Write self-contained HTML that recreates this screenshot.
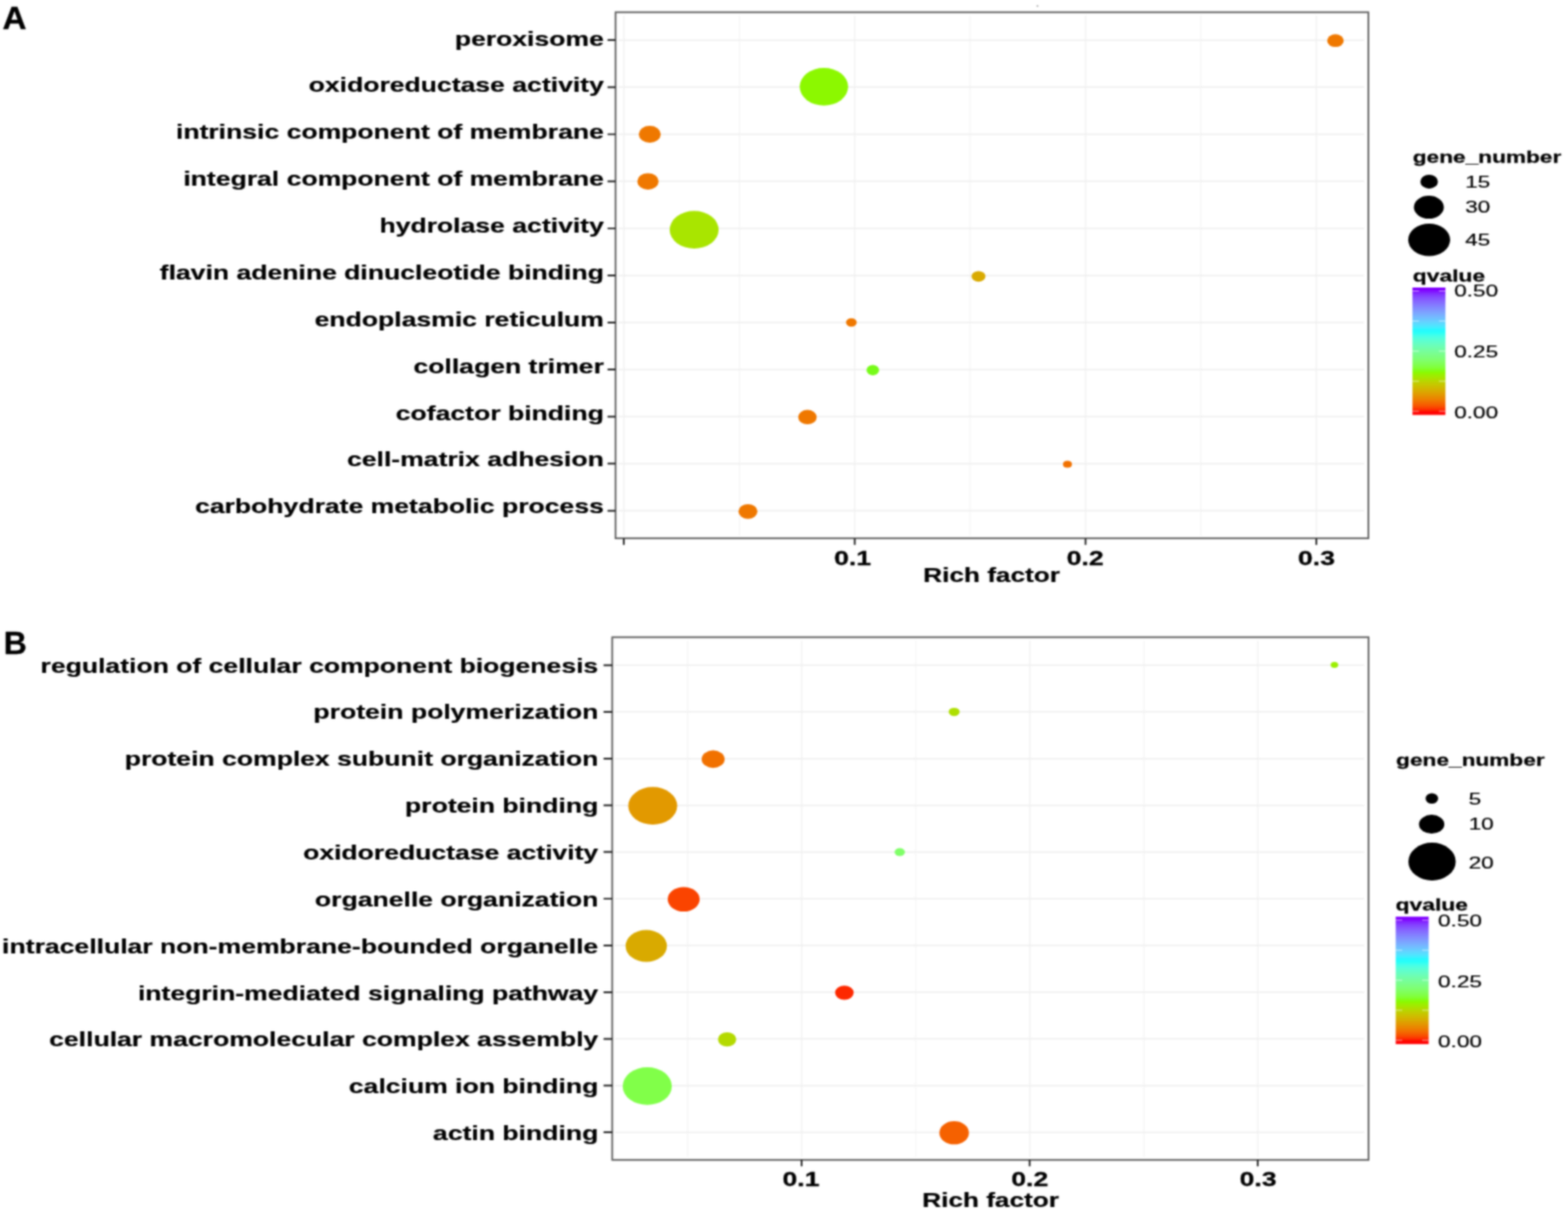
<!DOCTYPE html>
<html lang="en">
<head>
<meta charset="utf-8">
<title>GO enrichment bubble plots</title>
<style>
html,body{margin:0;padding:0;background:#fff;}
body{width:1571px;height:1214px;overflow:hidden;}
svg{display:block;font-family:'Liberation Sans', Arial, Helvetica, sans-serif;}
svg text{font-family:'Liberation Sans', Arial, Helvetica, sans-serif;}
</style>
</head>
<body>
<svg width="1571" height="1214" viewBox="0 0 1571 1214">
<defs><linearGradient id="rb" x1="0" y1="0" x2="0" y2="1"><stop offset="0.0000" stop-color="#8000ff"/><stop offset="0.0208" stop-color="#8000ff"/><stop offset="0.0417" stop-color="#8225ff"/><stop offset="0.0625" stop-color="#833fff"/><stop offset="0.0833" stop-color="#8552ff"/><stop offset="0.1042" stop-color="#8563ff"/><stop offset="0.1250" stop-color="#8572ff"/><stop offset="0.1458" stop-color="#8381ff"/><stop offset="0.1667" stop-color="#818fff"/><stop offset="0.1875" stop-color="#7e9dff"/><stop offset="0.2083" stop-color="#7aaaff"/><stop offset="0.2292" stop-color="#75b8ff"/><stop offset="0.2500" stop-color="#6dc5ff"/><stop offset="0.2708" stop-color="#64d2ff"/><stop offset="0.2917" stop-color="#57dfff"/><stop offset="0.3125" stop-color="#45ecff"/><stop offset="0.3333" stop-color="#25f9ff"/><stop offset="0.3542" stop-color="#27fff8"/><stop offset="0.3750" stop-color="#41ffeb"/><stop offset="0.3958" stop-color="#51ffde"/><stop offset="0.4167" stop-color="#5cffd1"/><stop offset="0.4375" stop-color="#65fec4"/><stop offset="0.4583" stop-color="#6cfeb7"/><stop offset="0.4792" stop-color="#72fea9"/><stop offset="0.5000" stop-color="#76fe9c"/><stop offset="0.5208" stop-color="#7afe8e"/><stop offset="0.5417" stop-color="#7cfe80"/><stop offset="0.5625" stop-color="#7eff72"/><stop offset="0.5833" stop-color="#80ff62"/><stop offset="0.6042" stop-color="#80ff51"/><stop offset="0.6250" stop-color="#81ff3d"/><stop offset="0.6458" stop-color="#80ff21"/><stop offset="0.6667" stop-color="#89fa00"/><stop offset="0.6875" stop-color="#9bef00"/><stop offset="0.7083" stop-color="#a9e400"/><stop offset="0.7292" stop-color="#b5d900"/><stop offset="0.7500" stop-color="#c0cd00"/><stop offset="0.7708" stop-color="#cac200"/><stop offset="0.7917" stop-color="#d2b600"/><stop offset="0.8125" stop-color="#d9aa00"/><stop offset="0.8333" stop-color="#e09d00"/><stop offset="0.8542" stop-color="#e68f00"/><stop offset="0.8750" stop-color="#ec8100"/><stop offset="0.8958" stop-color="#f17100"/><stop offset="0.9167" stop-color="#f56000"/><stop offset="0.9375" stop-color="#f94b00"/><stop offset="0.9583" stop-color="#fd2d00"/><stop offset="0.9792" stop-color="#ff0000"/><stop offset="1.0000" stop-color="#ff0000"/></linearGradient><filter id="soft" x="0" y="0" width="1571" height="1214" filterUnits="userSpaceOnUse" color-interpolation-filters="sRGB"><feConvolveMatrix order="5" kernelMatrix="1 8 16 8 1 8 64 128 64 8 16 128 256 128 16 8 64 128 64 8 1 8 16 8 1" divisor="1156" edgeMode="duplicate" preserveAlpha="true"/></filter></defs>
<g filter="url(#soft)">
<rect width="1571" height="1214" fill="#fff"/>
<path d="M740.80 15.80V536.20M972.00 15.80V536.20M1203.20 15.80V536.20" stroke="#f7f7f7" stroke-width="1.5" fill="none"/>
<path d="M625.20 15.80V536.20M856.40 15.80V536.20M1087.60 15.80V536.20M1318.80 15.80V536.20" stroke="#f3f3f3" stroke-width="1.5" fill="none"/>
<path d="M619.70 40.20H1366.50M619.70 87.34H1366.50M619.70 134.48H1366.50M619.70 181.62H1366.50M619.70 228.76H1366.50M619.70 275.90H1366.50M619.70 323.04H1366.50M619.70 370.18H1366.50M619.70 417.32H1366.50M619.70 464.46H1366.50M619.70 511.60H1366.50" stroke="#f0f0f0" stroke-width="1.5" fill="none"/>
<ellipse cx="1338.00" cy="40.70" rx="8.30" ry="6.40" fill="#ef7800"/>
<ellipse cx="825.50" cy="86.84" rx="24.30" ry="18.80" fill="#8cf800"/>
<ellipse cx="651.00" cy="134.48" rx="11.00" ry="8.50" fill="#ef7800"/>
<ellipse cx="649.20" cy="181.72" rx="10.70" ry="8.30" fill="#ef7800"/>
<ellipse cx="695.50" cy="230.16" rx="24.50" ry="18.80" fill="#a9e500"/>
<ellipse cx="980.40" cy="276.80" rx="7.00" ry="5.40" fill="#d9aa00"/>
<ellipse cx="853.00" cy="323.04" rx="5.40" ry="4.20" fill="#ef7800"/>
<ellipse cx="874.50" cy="370.68" rx="6.30" ry="5.20" fill="#76fb18"/>
<ellipse cx="809.00" cy="417.82" rx="9.30" ry="7.20" fill="#ef7800"/>
<ellipse cx="1069.50" cy="464.96" rx="4.50" ry="3.50" fill="#f17100"/>
<ellipse cx="749.40" cy="512.30" rx="9.50" ry="7.40" fill="#ef7800"/>
<rect x="616.70" y="12.30" width="754.30" height="526.90" fill="none" stroke="#5e5e5e" stroke-width="1.7"/>
<path d="M608.70 40.20H616.70M608.70 87.34H616.70M608.70 134.48H616.70M608.70 181.62H616.70M608.70 228.76H616.70M608.70 275.90H616.70M608.70 323.04H616.70M608.70 370.18H616.70M608.70 417.32H616.70M608.70 464.46H616.70M608.70 511.60H616.70M625.00 539.20V545.70M856.40 539.20V545.70M1087.60 539.20V545.70M1318.80 539.20V545.70" stroke="#1c1c1c" stroke-width="1.7" fill="none"/>
<text transform="translate(605.00 45.55) scale(1.298 1)" font-size="20.5" text-anchor="end" font-weight="bold" stroke="#000" stroke-width="0.2" fill="#000">peroxisome</text>
<text transform="translate(605.00 92.42) scale(1.298 1)" font-size="20.5" text-anchor="end" font-weight="bold" stroke="#000" stroke-width="0.2" fill="#000">oxidoreductase activity</text>
<text transform="translate(605.00 139.30) scale(1.298 1)" font-size="20.5" text-anchor="end" font-weight="bold" stroke="#000" stroke-width="0.2" fill="#000">intrinsic component of membrane</text>
<text transform="translate(605.00 186.18) scale(1.298 1)" font-size="20.5" text-anchor="end" font-weight="bold" stroke="#000" stroke-width="0.2" fill="#000">integral component of membrane</text>
<text transform="translate(605.00 233.05) scale(1.298 1)" font-size="20.5" text-anchor="end" font-weight="bold" stroke="#000" stroke-width="0.2" fill="#000">hydrolase activity</text>
<text transform="translate(605.00 279.93) scale(1.298 1)" font-size="20.5" text-anchor="end" font-weight="bold" stroke="#000" stroke-width="0.2" fill="#000">flavin adenine dinucleotide binding</text>
<text transform="translate(605.00 326.80) scale(1.298 1)" font-size="20.5" text-anchor="end" font-weight="bold" stroke="#000" stroke-width="0.2" fill="#000">endoplasmic reticulum</text>
<text transform="translate(605.00 373.68) scale(1.298 1)" font-size="20.5" text-anchor="end" font-weight="bold" stroke="#000" stroke-width="0.2" fill="#000">collagen trimer</text>
<text transform="translate(605.00 420.55) scale(1.298 1)" font-size="20.5" text-anchor="end" font-weight="bold" stroke="#000" stroke-width="0.2" fill="#000">cofactor binding</text>
<text transform="translate(605.00 467.43) scale(1.298 1)" font-size="20.5" text-anchor="end" font-weight="bold" stroke="#000" stroke-width="0.2" fill="#000">cell-matrix adhesion</text>
<text transform="translate(605.00 514.30) scale(1.298 1)" font-size="20.5" text-anchor="end" font-weight="bold" stroke="#000" stroke-width="0.2" fill="#000">carbohydrate metabolic process</text>
<text transform="translate(854.20 565.50) scale(1.29 1)" font-size="20.6" text-anchor="middle" font-weight="bold" stroke="#000" stroke-width="0.3" fill="#000">0.1</text>
<text transform="translate(1087.30 565.50) scale(1.29 1)" font-size="20.6" text-anchor="middle" font-weight="bold" stroke="#000" stroke-width="0.3" fill="#000">0.2</text>
<text transform="translate(1319.00 565.50) scale(1.29 1)" font-size="20.6" text-anchor="middle" font-weight="bold" stroke="#000" stroke-width="0.3" fill="#000">0.3</text>
<text transform="translate(993.50 583.20) scale(1.28 1)" font-size="20.5" text-anchor="middle" font-weight="bold" stroke="#000" stroke-width="0.2" fill="#000">Rich factor</text>
<text transform="translate(1415.50 163.40) scale(1.305 1)" font-size="17.4" text-anchor="start" font-weight="bold" stroke="#000" stroke-width="0.25" fill="#000">gene_number</text>
<ellipse cx="1431.9" cy="181.9" rx="8.8" ry="7.0" fill="#000"/>
<text transform="translate(1468.00 187.50) scale(1.3 1)" font-size="17.4" text-anchor="start" stroke="#000" stroke-width="0.2" fill="#000">15</text>
<ellipse cx="1431.6" cy="207.6" rx="15.0" ry="11.5" fill="#000"/>
<text transform="translate(1468.00 213.40) scale(1.3 1)" font-size="17.4" text-anchor="start" stroke="#000" stroke-width="0.2" fill="#000">30</text>
<ellipse cx="1431.9" cy="240.3" rx="21.0" ry="16.2" fill="#000"/>
<text transform="translate(1468.00 245.60) scale(1.3 1)" font-size="17.4" text-anchor="start" stroke="#000" stroke-width="0.2" fill="#000">45</text>
<text transform="translate(1415.50 282.00) scale(1.315 1)" font-size="17.4" text-anchor="start" font-weight="bold" stroke="#000" stroke-width="0.25" fill="#000">qvalue</text>
<rect x="1415.2" y="288.0" width="33.0" height="127.6" fill="url(#rb)"/>
<path d="M1415.20 291.50h6.5M1441.70 291.50h6.5M1415.20 321.62h6.5M1441.70 321.62h6.5M1415.20 351.75h6.5M1441.70 351.75h6.5M1415.20 381.88h6.5M1441.70 381.88h6.5M1415.20 412.00h6.5M1441.70 412.00h6.5" stroke="#fff" stroke-opacity="0.55" stroke-width="1" fill="none"/>
<text transform="translate(1457.00 297.20) scale(1.3 1)" font-size="17.4" text-anchor="start" stroke="#000" stroke-width="0.2" fill="#000">0.50</text>
<text transform="translate(1457.00 358.20) scale(1.3 1)" font-size="17.4" text-anchor="start" stroke="#000" stroke-width="0.2" fill="#000">0.25</text>
<text transform="translate(1457.00 419.20) scale(1.3 1)" font-size="17.4" text-anchor="start" stroke="#000" stroke-width="0.2" fill="#000">0.00</text>
<path d="M689.05 641.80V1158.80M917.55 641.80V1158.80M1146.05 641.80V1158.80" stroke="#f7f7f7" stroke-width="1.5" fill="none"/>
<path d="M803.30 641.80V1158.80M1031.80 641.80V1158.80M1260.30 641.80V1158.80" stroke="#f3f3f3" stroke-width="1.5" fill="none"/>
<path d="M616.40 666.30H1366.70M616.40 713.09H1366.70M616.40 759.88H1366.70M616.40 806.67H1366.70M616.40 853.46H1366.70M616.40 900.25H1366.70M616.40 947.04H1366.70M616.40 993.83H1366.70M616.40 1040.62H1366.70M616.40 1087.41H1366.70M616.40 1134.20H1366.70" stroke="#f0f0f0" stroke-width="1.5" fill="none"/>
<ellipse cx="1337.00" cy="666.10" rx="3.80" ry="3.00" fill="#9bef00"/>
<ellipse cx="956.00" cy="713.09" rx="5.50" ry="4.20" fill="#aedf00"/>
<ellipse cx="714.50" cy="760.38" rx="11.50" ry="8.80" fill="#f17100"/>
<ellipse cx="654.00" cy="807.17" rx="24.50" ry="18.80" fill="#e29900"/>
<ellipse cx="901.50" cy="853.46" rx="5.20" ry="4.00" fill="#7fff68"/>
<ellipse cx="685.00" cy="900.75" rx="16.00" ry="12.30" fill="#fa4400"/>
<ellipse cx="647.50" cy="947.54" rx="20.70" ry="16.00" fill="#d9aa00"/>
<ellipse cx="846.00" cy="994.33" rx="9.30" ry="7.20" fill="#fd2900"/>
<ellipse cx="728.50" cy="1041.12" rx="9.20" ry="7.10" fill="#b4da00"/>
<ellipse cx="648.50" cy="1087.91" rx="24.60" ry="18.90" fill="#81ff49"/>
<ellipse cx="956.00" cy="1134.70" rx="14.80" ry="11.60" fill="#f56100"/>
<rect x="613.40" y="638.30" width="757.80" height="523.50" fill="none" stroke="#5e5e5e" stroke-width="1.7"/>
<path d="M604.70 666.30H613.40M604.70 713.09H613.40M604.70 759.88H613.40M604.70 806.67H613.40M604.70 853.46H613.40M604.70 900.25H613.40M604.70 947.04H613.40M604.70 993.83H613.40M604.70 1040.62H613.40M604.70 1087.41H613.40M604.70 1134.20H613.40M803.20 1161.80V1168.30M1031.60 1161.80V1168.30M1260.20 1161.80V1168.30" stroke="#1c1c1c" stroke-width="1.7" fill="none"/>
<text transform="translate(599.40 673.60) scale(1.298 1)" font-size="20.5" text-anchor="end" font-weight="bold" stroke="#000" stroke-width="0.2" fill="#000">regulation of cellular component biogenesis</text>
<text transform="translate(599.40 720.45) scale(1.298 1)" font-size="20.5" text-anchor="end" font-weight="bold" stroke="#000" stroke-width="0.2" fill="#000">protein polymerization</text>
<text transform="translate(599.40 767.30) scale(1.298 1)" font-size="20.5" text-anchor="end" font-weight="bold" stroke="#000" stroke-width="0.2" fill="#000">protein complex subunit organization</text>
<text transform="translate(599.40 814.15) scale(1.298 1)" font-size="20.5" text-anchor="end" font-weight="bold" stroke="#000" stroke-width="0.2" fill="#000">protein binding</text>
<text transform="translate(599.40 861.00) scale(1.298 1)" font-size="20.5" text-anchor="end" font-weight="bold" stroke="#000" stroke-width="0.2" fill="#000">oxidoreductase activity</text>
<text transform="translate(599.40 907.85) scale(1.298 1)" font-size="20.5" text-anchor="end" font-weight="bold" stroke="#000" stroke-width="0.2" fill="#000">organelle organization</text>
<text transform="translate(599.40 954.70) scale(1.298 1)" font-size="20.5" text-anchor="end" font-weight="bold" stroke="#000" stroke-width="0.2" fill="#000">intracellular non-membrane-bounded organelle</text>
<text transform="translate(599.40 1001.55) scale(1.298 1)" font-size="20.5" text-anchor="end" font-weight="bold" stroke="#000" stroke-width="0.2" fill="#000">integrin-mediated signaling pathway</text>
<text transform="translate(599.40 1048.40) scale(1.298 1)" font-size="20.5" text-anchor="end" font-weight="bold" stroke="#000" stroke-width="0.2" fill="#000">cellular macromolecular complex assembly</text>
<text transform="translate(599.40 1095.25) scale(1.298 1)" font-size="20.5" text-anchor="end" font-weight="bold" stroke="#000" stroke-width="0.2" fill="#000">calcium ion binding</text>
<text transform="translate(599.40 1142.10) scale(1.298 1)" font-size="20.5" text-anchor="end" font-weight="bold" stroke="#000" stroke-width="0.2" fill="#000">actin binding</text>
<text transform="translate(802.50 1188.30) scale(1.29 1)" font-size="20.6" text-anchor="middle" font-weight="bold" stroke="#000" stroke-width="0.3" fill="#000">0.1</text>
<text transform="translate(1031.70 1188.30) scale(1.29 1)" font-size="20.6" text-anchor="middle" font-weight="bold" stroke="#000" stroke-width="0.3" fill="#000">0.2</text>
<text transform="translate(1260.50 1188.30) scale(1.29 1)" font-size="20.6" text-anchor="middle" font-weight="bold" stroke="#000" stroke-width="0.3" fill="#000">0.3</text>
<text transform="translate(992.50 1208.50) scale(1.28 1)" font-size="20.5" text-anchor="middle" font-weight="bold" stroke="#000" stroke-width="0.2" fill="#000">Rich factor</text>
<text transform="translate(1398.80 767.10) scale(1.305 1)" font-size="17.4" text-anchor="start" font-weight="bold" stroke="#000" stroke-width="0.25" fill="#000">gene_number</text>
<ellipse cx="1434.6" cy="799.7" rx="6.3" ry="5.2" fill="#000"/>
<text transform="translate(1471.50 805.60) scale(1.3 1)" font-size="17.4" text-anchor="start" stroke="#000" stroke-width="0.2" fill="#000">5</text>
<ellipse cx="1434.4" cy="825.6" rx="12.7" ry="9.5" fill="#000"/>
<text transform="translate(1471.50 831.10) scale(1.3 1)" font-size="17.4" text-anchor="start" stroke="#000" stroke-width="0.2" fill="#000">10</text>
<ellipse cx="1434.8" cy="863.0" rx="23.7" ry="18.9" fill="#000"/>
<text transform="translate(1471.50 869.60) scale(1.3 1)" font-size="17.4" text-anchor="start" stroke="#000" stroke-width="0.2" fill="#000">20</text>
<text transform="translate(1398.30 912.00) scale(1.315 1)" font-size="17.4" text-anchor="start" font-weight="bold" stroke="#000" stroke-width="0.25" fill="#000">qvalue</text>
<rect x="1398.4" y="918.2" width="33.0" height="127.6" fill="url(#rb)"/>
<path d="M1398.40 921.70h6.5M1424.90 921.70h6.5M1398.40 951.78h6.5M1424.90 951.78h6.5M1398.40 981.85h6.5M1424.90 981.85h6.5M1398.40 1011.92h6.5M1424.90 1011.92h6.5M1398.40 1042.00h6.5M1424.90 1042.00h6.5" stroke="#fff" stroke-opacity="0.55" stroke-width="1" fill="none"/>
<text transform="translate(1440.80 928.30) scale(1.3 1)" font-size="17.4" text-anchor="start" stroke="#000" stroke-width="0.2" fill="#000">0.50</text>
<text transform="translate(1440.80 988.70) scale(1.3 1)" font-size="17.4" text-anchor="start" stroke="#000" stroke-width="0.2" fill="#000">0.25</text>
<text transform="translate(1440.80 1049.20) scale(1.3 1)" font-size="17.4" text-anchor="start" stroke="#000" stroke-width="0.2" fill="#000">0.00</text>
<text transform="translate(2.60 28.90) scale(1.04 1)" font-size="32" text-anchor="start" font-weight="bold" stroke="#000" stroke-width="0.3" fill="#000">A</text>
<text transform="translate(3.80 655.30) scale(1.0 1)" font-size="32" text-anchor="start" font-weight="bold" stroke="#000" stroke-width="0.3" fill="#000">B</text>
<circle cx="1039.5" cy="6" r="0.9" fill="#aaa"/>
</g>
</svg>
</body>
</html>
